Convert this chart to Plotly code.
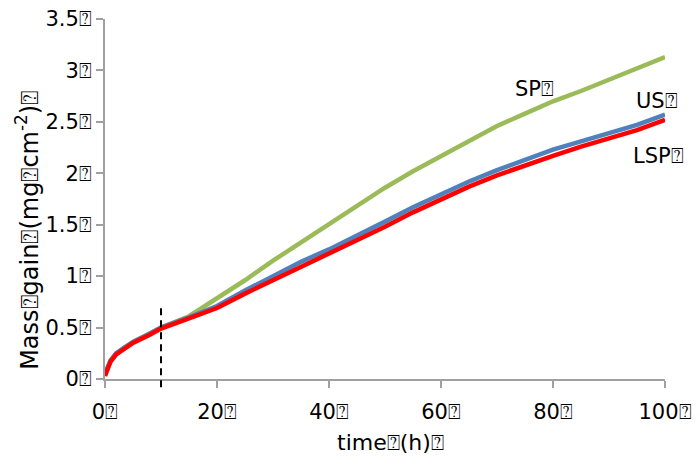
import plotly.graph_objects as go

Q = "\u2370"

time_h = [0, 1, 2, 3, 5, 8, 10, 15, 20, 25, 30, 35, 40, 45, 50, 55, 60, 65, 70, 75, 80, 85, 90, 95, 100]
sp = [0.05, 0.18, 0.24, 0.29, 0.36, 0.44, 0.50, 0.61, 0.78, 0.96, 1.15, 1.33, 1.51, 1.69, 1.86, 2.02, 2.17, 2.32, 2.46, 2.58, 2.70, 2.80, 2.91, 3.02, 3.13]
us = [0.05, 0.18, 0.25, 0.29, 0.36, 0.44, 0.50, 0.60, 0.71, 0.86, 1.00, 1.14, 1.26, 1.39, 1.53, 1.67, 1.80, 1.92, 2.03, 2.13, 2.23, 2.31, 2.39, 2.47, 2.57]
lsp = [0.03, 0.17, 0.24, 0.28, 0.35, 0.43, 0.49, 0.59, 0.69, 0.83, 0.96, 1.09, 1.21, 1.34, 1.48, 1.62, 1.75, 1.87, 1.98, 2.08, 2.17, 2.26, 2.34, 2.42, 2.52]

x_ticks = [0, 20, 40, 60, 80, 100]
y_ticks = [0, 0.5, 1, 1.5, 2, 2.5, 3, 3.5]
x_labels = ["0", "20", "40", "60", "80", "100"]
y_labels = ["0", "0.5", "1", "1.5", "2", "2.5", "3", "3.5"]
x_range = [0, 100]
y_range = [0, 3.5]

dash_x = 10
dash_y = [-0.08, 0.715]

labels = [("SP", 76.7, 2.82), ("US", 98.5, 2.70), ("LSP", 98.9, 2.17)]

FONT = "'DejaVu Sans', sans-serif"
FS = 21


def to_paper_y(v):
    return (v - y_range[0]) / (y_range[1] - y_range[0])


fig = go.Figure()
fig.add_trace(go.Scatter(x=time_h, y=sp, mode="lines", line=dict(color="#9BBB59", width=4.5), name="SP"))
fig.add_trace(go.Scatter(x=time_h, y=us, mode="lines", line=dict(color="#4F81BD", width=4.5), name="US"))
fig.add_trace(go.Scatter(x=time_h, y=lsp, mode="lines", line=dict(color="#FF0000", width=4.5), name="LSP"))

fig.add_shape(type="line", xref="x", yref="paper", x0=dash_x, x1=dash_x,
              y0=to_paper_y(dash_y[0]), y1=to_paper_y(dash_y[1]),
              line=dict(color="black", width=2, dash="7px,5px"))

for txt, lx, ly in labels:
    fig.add_annotation(x=lx, y=ly, text=txt + Q, showarrow=False, xref="x", yref="y",
                       xanchor="center", yanchor="middle",
                       font=dict(size=21, color="black", family=FONT))

fig.add_annotation(x=0.509, y=-0.177, xref="paper", yref="paper", showarrow=False,
                   xanchor="center", yanchor="middle",
                   text="time" + Q + "(h)" + Q, font=dict(size=22, color="black", family=FONT))
fig.add_annotation(x=-0.139, y=0.412, xref="paper", yref="paper", showarrow=False, textangle=-90,
                   xanchor="center", yanchor="middle",
                   text="Mass" + Q + "gain" + Q + "(mg" + Q + "cm<sup>-2</sup>)" + Q,
                   font=dict(size=24, color="black", family=FONT))

axis_common = dict(showline=True, linecolor="#A0A0A0", linewidth=2, ticks="outside", tickcolor="#A0A0A0",
                   ticklen=7, tickwidth=2, showgrid=False, zeroline=False, automargin=False,
                   ticklabeloverflow="allow",
                   tickfont=dict(size=FS, color="black", family=FONT))

fig.update_layout(
    width=700, height=462,
    margin=dict(l=97, r=43, t=11, b=91),
    plot_bgcolor="white", paper_bgcolor="white",
    showlegend=False,
    xaxis=dict(range=x_range, tickvals=x_ticks, ticktext=[t + Q for t in x_labels],
               ticklabelstandoff=6, **axis_common),
    yaxis=dict(range=y_range, tickvals=y_ticks, ticktext=[t + Q for t in y_labels],
               **axis_common),
)

fig.write_html("out.html")
